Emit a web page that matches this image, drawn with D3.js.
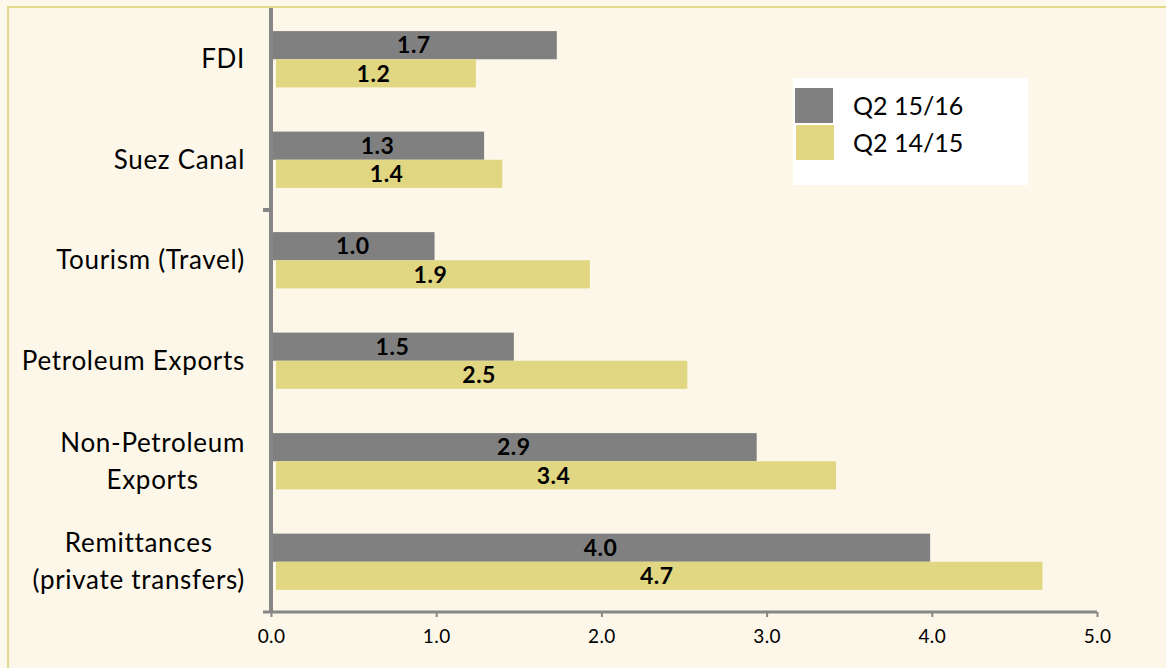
<!DOCTYPE html>
<html>
<head>
<meta charset="utf-8">
<script src="https://cdn.jsdelivr.net/npm/d3@7"></script>
<style>
  html, body { margin: 0; padding: 0; background: #fdf7ea; }
  svg { display: block; font-family: Lato, "Open Sans", sans-serif; }
</style>
</head>
<body>
<div id="chart"></div>
<script>
const categories = [
  ['FDI'],
  ['Suez Canal'],
  ['Tourism (Travel)'],
  ['Petroleum  Exports'],
  ['Non-Petroleum', 'Exports'],
  ['Remittances', '(private transfers)']
];
const q2_1516 = [1.73, 1.29, 0.99, 1.47, 2.94, 3.99];
const q2_1415 = [1.24, 1.40, 1.93, 2.52, 3.42, 4.67];
const seriesNames = ['Q2 15/16', 'Q2 14/15'];
const seriesColors = ['#808080', '#e1d681'];
const xTicks = [0, 1, 2, 3, 4, 5];

const width = 1166, height = 668;
const svg = d3.select('#chart').append('svg')
  .attr('width', width)
  .attr('height', height);

// background + frame
svg.append('rect')
  .attr('width', width).attr('height', height)
  .attr('fill', '#fdf8ec');
svg.append('rect')
  .attr('x', 8).attr('y', 7)
  .attr('width', width + 10).attr('height', height + 10)
  .attr('fill', '#fdf7e9')
  .attr('stroke', '#e3d98c')
  .attr('stroke-width', 2);

const x = d3.scaleLinear().domain([0, 5]).range([271, 1097]);
const y = d3.scaleBand()
  .domain(d3.range(categories.length))
  .range([9, 612])
  .paddingInner(0.44)
  .paddingOuter(0.22);

const bh = y.bandwidth() / 2;

const rows = svg.selectAll('.row')
  .data(categories.map((c, i) => ({ c, i, vals: [q2_1516[i], q2_1415[i]] })))
  .enter().append('g')
    .attr('class', 'row');

rows.selectAll('rect')
  .data(d => d.vals.map((v, k) => ({ v, k, i: d.i })))
  .enter().append('rect')
    .attr('x', d => x(0) + (d.k === 0 ? 2 : 5))
    .attr('y', d => y(d.i) + d.k * bh)
    .attr('width', d => x(d.v) - x(0) - (d.k === 0 ? 2 : 5))
    .attr('height', bh)
    .attr('fill', d => seriesColors[d.k]);

rows.selectAll('.val')
  .data(d => d.vals.map((v, k) => ({ v, k, i: d.i })))
  .enter().append('text')
    .attr('class', 'val')
    .attr('x', d => (x(0) + x(d.v)) / 2)
    .attr('y', d => y(d.i) + d.k * bh + bh / 2)
    .attr('dy', '0.36em')
    .attr('text-anchor', 'middle')
    .style('font-size', '23px')
    .style('font-weight', 'bold')
    .style('letter-spacing', '0.5px')
    .style('fill', '#000')
    .text(d => d.v.toFixed(1));

// category labels: lines centred on each other, block right-aligned at the axis
rows.each(function(d) {
  const cy = y(d.i) + y.bandwidth() / 2;
  const lines = d.c;
  const lh = 37;
  const t = d3.select(this).append('text')
    .attr('text-anchor', 'middle')
    .style('font-size', '26px')
    .style('letter-spacing', '0.7px')
    .style('fill', '#000');
  const spans = lines.map((s, j) => t.append('tspan')
    .attr('y', cy + (j - (lines.length - 1) / 2) * lh)
    .attr('dy', '0.35em')
    .text(s));
  const maxW = d3.max(spans, s => s.node().getComputedTextLength());
  spans.forEach(s => s.attr('x', 245 - maxW / 2));
});

// axes
const axisColor = '#868686';
svg.append('line')
  .attr('x1', x(0)).attr('x2', x(0))
  .attr('y1', 8).attr('y2', 612)
  .attr('stroke', axisColor).attr('stroke-width', 4);
svg.append('line')
  .attr('x1', x(0) - 8).attr('x2', x(0))
  .attr('y1', (y(1) + y.bandwidth() + y(2)) / 2)
  .attr('y2', (y(1) + y.bandwidth() + y(2)) / 2)
  .attr('stroke', axisColor).attr('stroke-width', 4);

const xAxis = svg.append('g')
  .attr('transform', 'translate(0,612)')
  .call(d3.axisBottom(x).tickValues(xTicks).tickFormat(d3.format('.1f')).tickSize(5).tickPadding(13));
xAxis.select('.domain')
  .attr('d', `M${x(0) - 8},0H${x(5)}`)
  .attr('stroke', axisColor).attr('stroke-width', 3);
xAxis.selectAll('.tick line').attr('stroke', axisColor).attr('stroke-width', 2);
xAxis.selectAll('.tick text')
  .style('font-size', '19px')
  .style('font-family', 'Lato, sans-serif')
  .style('letter-spacing', '0.4px')
  .style('fill', '#000');

// legend
const legend = svg.append('g').attr('transform', 'translate(793,78)');
legend.append('rect')
  .attr('width', 235).attr('height', 107)
  .attr('fill', '#fff');
seriesNames.forEach((n, k) => {
  legend.append('rect')
    .attr('x', 2 + k * 1).attr('y', 10 + k * 37)
    .attr('width', 38).attr('height', 35)
    .attr('fill', seriesColors[k]);
  legend.append('text')
    .attr('x', 60).attr('y', 28 + k * 37)
    .attr('dy', '0.35em')
    .style('font-size', '25px')
    .text(n);
});
</script>
</body>
</html>
